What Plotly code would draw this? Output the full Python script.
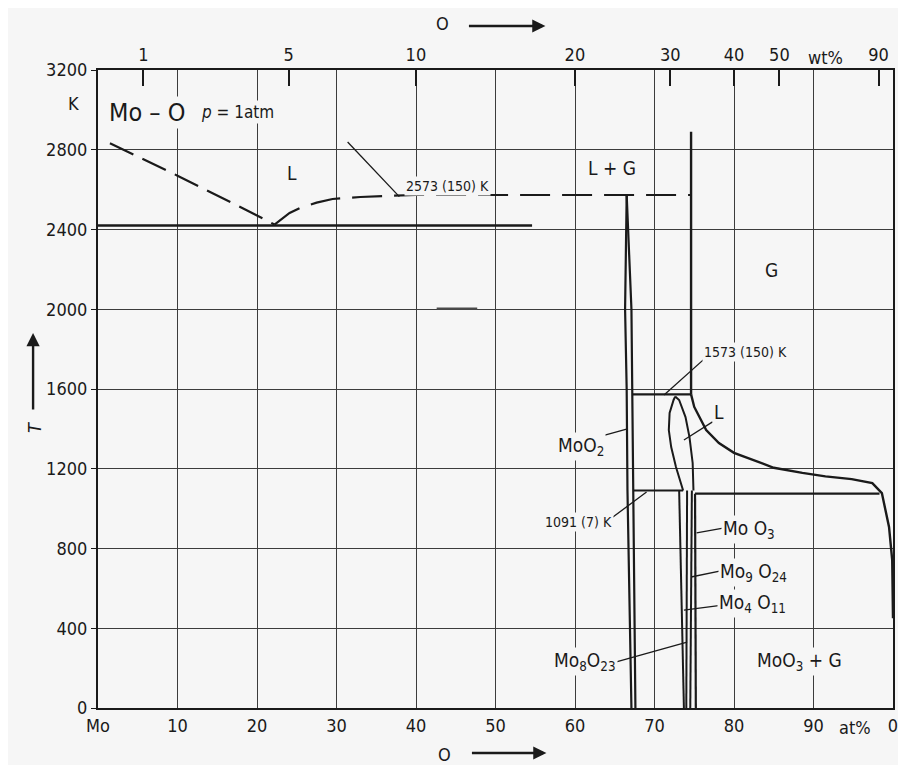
import plotly.graph_objects as go

FONT = "DejaVu Sans Condensed, DejaVu Sans, sans-serif"
BG = "#f6f6f6"
INK = "#1a1a1a"

# ---------------- axes / ticks ----------------
y_ticks = [0, 400, 800, 1200, 1600, 2000, 2400, 2800, 3200]
x_ticks = [0, 10, 20, 30, 40, 50, 60, 70, 80, 90, 100]
x_ticktext = ["Mo", "10", "20", "30", "40", "50", "60", "70", "80", "90", "0"]
wt_ticks = [1, 5, 10, 20, 30, 40, 50, 90]
M_MO, M_O = 95.95, 16.00
wt_pos = [(w / M_O) / (w / M_O + (100 - w) / M_MO) * 100 for w in wt_ticks]

# ---------------- phase boundaries (at% O, T in K) ----------------
liq_left_x = [1.5, 10.0, 18.7, 22.2]
liq_left_T = [2833, 2670, 2497, 2425]
liq_right_x = [22.2, 24.1, 25.4, 27.5, 29.5, 33.0, 37.0, 40.0, 74.6]
liq_right_T = [2425, 2483, 2508, 2535, 2553, 2563, 2570, 2573, 2573]
eut_x = [0, 54.6]
eut_T = [2420, 2420]
short_x = [42.6, 47.7]
short_T = [2003, 2003]

moo2_left_x = [66.5, 66.3, 66.5, 66.6, 67.1]
moo2_left_T = [2573, 2000, 1600, 1091, 0]
moo2_right_x = [66.5, 67.1, 67.2, 67.3, 67.6]
moo2_right_T = [2573, 2000, 1600, 1091, 0]

gas_vert_x = [74.6, 74.6]
gas_vert_T = [2890, 1573]
per_x = [67.2, 74.6]
per_T = [1573, 1573]
eut2_x = [67.3, 73.6]
eut2_T = [1091, 1091]
eut3_x = [75.1, 98.3]
eut3_T = [1075, 1075]

lg_x = [74.6, 75.0, 76.5, 78.1, 80.0, 82.3, 85.0, 88.6, 91.5, 94.8, 97.4, 98.6, 99.5, 99.9, 100.0]
lg_T = [1573, 1510, 1394, 1329, 1280, 1244, 1205, 1179, 1162, 1148, 1128, 1078, 908, 742, 450]

lens_left_x = [72.6, 72.4, 71.9, 71.8, 72.1, 72.7, 73.6]
lens_left_T = [1562, 1545, 1480, 1394, 1309, 1209, 1091]
lens_right_x = [72.6, 73.1, 73.9, 74.4, 74.8, 74.9]
lens_right_T = [1562, 1545, 1459, 1359, 1229, 1091]

mo4o11_x = [73.1, 73.7]
mo4o11_T = [1091, 0]
mo8o23_x = [74.1, 74.0]
mo8o23_T = [1091, 0]
mo9o26_x = [74.7, 74.5]
mo9o26_T = [1091, 0]
moo3_x = [75.1, 75.2]
moo3_T = [1075, 0]

# leader lines: (x0, T0, x1, T1)
leaders = [
    (31.4, 2839, 37.9, 2565),   # 2573 (150) K
    (71.2, 1570, 76.8, 1770),   # 1573 (150) K
    (63.3, 1364, 66.6, 1400),   # MoO2
    (64.6, 953, 69.0, 1083),    # 1091 (7) K
    (75.3, 878, 78.8, 903),     # MoO3
    (74.6, 657, 78.8, 692),     # Mo9O24
    (73.7, 491, 78.8, 517),     # Mo4O11
    (65.2, 231, 74.1, 331),     # Mo8O23
    (73.7, 1344, 77.3, 1435),   # L (lens)
]

# labels: (text, x, T, size)
labels = [
    ("Mo – O", 6.2, 2989, 25),
    ("<i>p</i> = 1atm", 17.6, 2989, 17),
    ("L", 24.4, 2683, 19),
    ("L + G", 64.7, 2708, 19),
    ("G", 84.7, 2197, 19),
    ("2573 (150) K", 44.0, 2618, 14),
    ("1573 (150) K", 81.4, 1785, 14),
    ("MoO<sub>2</sub>", 60.8, 1314, 19),
    ("1091 (7) K", 60.4, 933, 14),
    ("L", 78.1, 1484, 19),
    ("Mo O<sub>3</sub>", 81.9, 893, 19),
    ("Mo<sub>9</sub> O<sub>24</sub>", 82.4, 682, 19),
    ("Mo<sub>4</sub> O<sub>11</sub>", 82.3, 522, 19),
    ("Mo<sub>8</sub>O<sub>23</sub>", 61.3, 231, 19),
    ("MoO<sub>3</sub> + G", 88.3, 231, 19),
]

fig = go.Figure()

def line(x, y, width=2.4, dash=None, color=INK):
    fig.add_trace(go.Scatter(x=x, y=y, mode="lines", hoverinfo="skip",
                             line=dict(color=color, width=width, dash=dash),
                             showlegend=False))

line(liq_left_x, liq_left_T, 2.2, "26px,10px")
line(liq_right_x, liq_right_T, 2.2, "30px,12px")
line(eut_x, eut_T, 2.6)
line(short_x, short_T, 2.2, None, "#4a4a4a")
line(moo2_left_x, moo2_left_T, 2.2)
line(moo2_right_x, moo2_right_T, 2.2)
line(gas_vert_x, gas_vert_T, 2.4)
line(per_x, per_T, 2.2)
line(eut2_x, eut2_T, 2.2)
line(eut3_x, eut3_T, 2.2)
line(lg_x, lg_T, 2.4)
line(lens_left_x, lens_left_T, 2.0)
line(lens_right_x, lens_right_T, 2.0)
line(mo4o11_x, mo4o11_T, 2.0)
line(mo8o23_x, mo8o23_T, 2.0)
line(mo9o26_x, mo9o26_T, 2.0)
line(moo3_x, moo3_T, 2.2)
for x0, y0, x1, y1 in leaders:
    line([x0, x1], [y0, y1], 1.3)

# dummy trace for the top (wt%) axis
fig.add_trace(go.Scatter(x=[0, 100], y=[0, 0], xaxis="x2", mode="markers",
                         marker=dict(opacity=0), hoverinfo="skip", showlegend=False))

for text, x, y, size in labels:
    fig.add_annotation(x=x, y=y, xref="x", yref="y", text=text, showarrow=False,
                       xanchor="center", yanchor="middle",
                       font=dict(family=FONT, size=size, color=INK),
                       bgcolor=BG, borderpad=1)

# page-pixel -> paper helpers (plot area spans x 98..894, y 70..708 on the page)
def pxx(px):
    return (px - 98) / 796

def pxy(py):
    return (708 - py) / 638

outside = [
    ("wt%", pxx(826), pxy(58), 18, 0),
    ("at%", pxx(856), pxy(727), 18, 0),
    ("O", pxx(443), pxy(24), 18, 0),
    ("O", pxx(445), pxy(754), 18, 0),
    ("K", pxx(73), pxy(104), 18, 0),
    ("<i>T</i>", pxx(35), pxy(428), 18, -90),
]
for text, x, y, size, ang in outside:
    fig.add_annotation(x=x, y=y, xref="paper", yref="paper", text=text, showarrow=False,
                       xanchor="center", yanchor="middle",
                       textangle=ang, font=dict(family=FONT, size=size, color=INK))

# arrows
arrows = [
    (pxx(546), pxy(26), -78, 0),
    (pxx(547), pxy(753), -76, 0),
    (pxx(33), pxy(333), 0, 78),
]
for x, y, ax, ay in arrows:
    fig.add_annotation(x=x, y=y, xref="paper", yref="paper", ax=ax, ay=ay,
                       axref="pixel", ayref="pixel", text="", showarrow=True,
                       arrowhead=2, arrowsize=1.1, arrowwidth=2.4, arrowcolor=INK)

grid = dict(showgrid=True, gridcolor="#3c3c3c", gridwidth=1.1)
# the page body adds an 8 px offset, so the figure is shifted via margins
fig.update_layout(
    width=902, height=757,
    margin=dict(l=90, r=12, t=62, b=57),
    paper_bgcolor=BG, plot_bgcolor=BG,
    font=dict(family=FONT, size=18, color=INK),
    xaxis=dict(range=[0, 100], tickvals=x_ticks, ticktext=x_ticktext, ticks="",
               showline=True, linecolor=INK, linewidth=2.2, mirror=True,
               zeroline=False, fixedrange=True, **grid),
    xaxis2=dict(range=[0, 100], overlaying="x", side="top", anchor="y",
                tickvals=wt_pos, ticktext=[str(w) for w in wt_ticks],
                ticks="inside", ticklen=16, tickwidth=1.6, tickcolor=INK,
                showgrid=False, showline=True, linecolor=INK, linewidth=2.2,
                zeroline=False),
    yaxis=dict(range=[0, 3200], tickvals=y_ticks, ticks="outside", ticklen=5,
               tickcolor=INK, showline=True, linecolor=INK, linewidth=2.2,
               mirror=True, zeroline=False, **grid),
)

fig.write_html("out.html")
